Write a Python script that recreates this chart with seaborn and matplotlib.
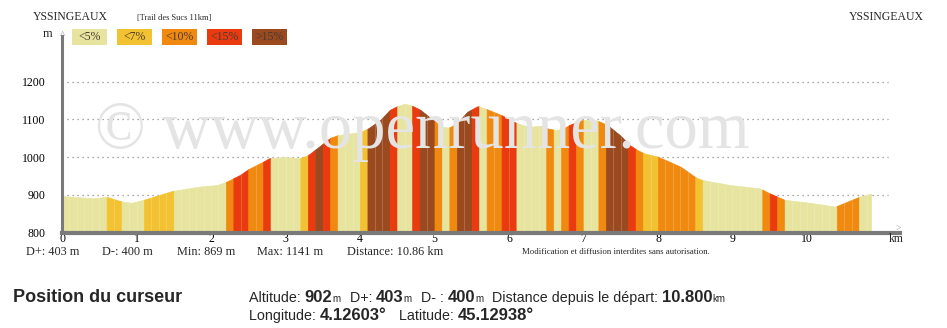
import numpy as np
import matplotlib
matplotlib.use("Agg")
import matplotlib.pyplot as plt
from matplotlib.patches import Rectangle
from matplotlib import font_manager as fm
import seaborn as sns

# ---- profile: distance (km) and altitude (m) ----
dist_km = [0.00, 0.42, 0.60, 0.81, 0.94, 1.11, 1.49, 1.85, 2.08, 2.21,
           2.39, 2.50, 2.70, 2.79, 3.02, 3.19, 3.30, 3.42, 3.60, 3.70,
           4.00, 4.11, 4.27, 4.40, 4.50, 4.60, 4.70, 4.81, 5.01, 5.10,
           5.19, 5.30, 5.44, 5.58, 5.70, 5.91, 6.11, 6.28, 6.42, 6.51,
           6.62, 6.71, 6.81, 6.98, 7.18, 7.32, 7.49, 7.62, 7.72, 7.81,
           8.00, 8.30, 8.51, 8.60, 8.97, 9.37, 9.50, 9.70, 10.04, 10.38,
           10.70, 10.86]
elev_m = [897, 891, 895, 882, 879, 888, 911, 922, 926, 935,
          953, 968, 988, 998, 1000, 997, 1005, 1023, 1051, 1058,
          1066, 1076, 1098, 1125, 1135, 1141, 1136, 1125, 1094, 1080,
          1078, 1089, 1120, 1135, 1127, 1110, 1089, 1080, 1083, 1076,
          1072, 1074, 1085, 1098, 1097, 1085, 1058, 1032, 1019, 1010,
          1001, 975, 946, 939, 926, 917, 904, 887, 879, 869,
          895, 903]

# ---- slope classes along the route ----
seg_edges_km = [0.0, 0.6, 0.8, 1.1, 1.5, 2.2, 2.3, 2.5, 2.7, 2.8, 3.2, 3.3,
                3.4, 3.5, 3.6, 3.7, 4.0, 4.1, 4.4, 4.5, 4.7, 4.8, 5.0, 5.1,
                5.2, 5.3, 5.5, 5.6, 5.7, 5.9, 6.1, 6.5, 6.6, 6.7, 6.8, 6.9,
                7.0, 7.2, 7.3, 7.6, 7.7, 7.8, 8.0, 8.5, 8.6, 9.4, 9.5, 9.6,
                9.7, 10.4, 10.7, 10.86]
seg_class = [0, 1, 0, 1, 0, 2, 3, 2, 3, 0,
             1, 3, 4, 3, 2, 0, 1, 4, 3, 0,
             3, 4, 2, 0, 2, 4, 3, 0, 2, 3,
             0, 2, 0, 2, 3, 2, 0, 2, 4, 3,
             2, 1, 2, 1, 0, 2, 3, 2, 0, 2,
             0]
class_labels = ["<5%", "<7%", "<10%", "<15%", ">15%"]
class_colors = ["#E6E49E", "#F2C232", "#F0890F", "#EA3A10", "#9A4A1E"]

x_ticks = list(range(0, 11))
y_ticks = [800, 900, 1000, 1100, 1200]
grid_levels = [900, 1000, 1100, 1200]

stats = ["D+: 403 m", "D-: 400 m", "Min: 869 m", "Max: 1141 m", "Distance: 10.86 km"]
stats_x = [26, 102, 177, 257, 347]

W, H = 947, 328
sns.set_theme(style="white")
plt.rcParams["font.family"] = ["Liberation Serif", "DejaVu Serif"]


def has_font(name):
    try:
        fm.findfont(fm.FontProperties(family=name), fallback_to_default=False)
        return True
    except ValueError:
        return False


narrow = "Liberation Sans Narrow" if has_font("Liberation Sans Narrow") else "Liberation Sans"

fig = plt.figure(figsize=(W / 100, H / 100), dpi=100)
fig.patch.set_facecolor("white")


def fx(x):
    return x / W


def fy(y):
    return 1 - y / H


# axes: origin at (62, 232.7) px, 74.5 px per km, 0.378 px per m
x0, y0, x1, y1 = 62, 232.7, 900, 36
ax = fig.add_axes([fx(x0), fy(y0), (x1 - x0) / W, (y0 - y1) / H])
ax.set_facecolor("none")
ax.set_xlim(0, (x1 - x0) / 74.5)
ax.set_ylim(800, 800 + (y0 - y1) / 0.378)

palette = sns.color_palette(class_colors)

# watermark behind everything
fig.text(fx(95), fy(148), "\u00a9 www.openrunner.com", fontsize=48,
         color="#E4E4E4", va="baseline", ha="left", zorder=0,
         family=["Liberation Serif"])

# dotted grid
ax.hlines(grid_levels, 0, (888 - x0) / 74.5, colors="#8a8a8a",
          linestyles=(0, (1, 3)), linewidth=0.9, zorder=1)

# coloured slope segments
d = np.asarray(dist_km, float)
e = np.asarray(elev_m, float)
for i, c in enumerate(seg_class):
    lo, hi = seg_edges_km[i], seg_edges_km[i + 1]
    xs = np.linspace(lo, hi, max(4, int((hi - lo) * 60)))
    ys = np.interp(xs, d, e)
    ax.fill_between(xs, 800, ys, facecolor=palette[c], edgecolor=palette[c],
                    linewidth=0.5, zorder=2)
    # faint seams every 100 m inside a segment
    for k in np.arange(round(lo + 0.1, 1), hi - 0.05, 0.1):
        ax.vlines(k, 800, np.interp(k, d, e), colors="white", alpha=0.22,
                  linewidth=0.6, zorder=2.5)

# axes styling
for s in ["top", "right"]:
    ax.spines[s].set_visible(False)
ax.spines["left"].set_color("#7a7a7a")
ax.spines["left"].set_linewidth(2.2)
ax.spines["bottom"].set_color("#7a7a7a")
ax.spines["bottom"].set_linewidth(3)
ax.spines["left"].set_zorder(3)
ax.spines["bottom"].set_zorder(3)
ax.set_xticks(x_ticks)
ax.set_xticklabels([str(t) for t in x_ticks])
ax.set_yticks(y_ticks)
ax.set_yticklabels([str(t) for t in y_ticks])
ax.tick_params(axis="both", length=0, labelsize=8.5, colors="black")
ax.tick_params(axis="x", pad=0)
ax.tick_params(axis="y", pad=12)
ax.grid(False)

# axis arrows and units
fig.text(fx(62), fy(36), "^", ha="center", va="center", fontsize=8, color="#9a9a9a")
fig.text(fx(898), fy(228), ">", ha="center", va="center", fontsize=7, color="#9a9a9a")
fig.text(fx(896), fy(239), "km", ha="center", va="center", fontsize=8.5)
fig.text(fx(52), fy(34), "m", ha="right", va="center", fontsize=9)

# header
fig.text(fx(33), fy(17), "YSSINGEAUX", ha="left", va="center", fontsize=8.5)
fig.text(fx(849), fy(17), "YSSINGEAUX", ha="left", va="center", fontsize=8.5)
fig.text(fx(137), fy(18), "[Trail des Sucs 11km]", ha="left", va="center", fontsize=6)

# slope legend
box_x = [72, 117, 162, 207, 252]
for bx, lab, col in zip(box_x, class_labels, class_colors):
    fig.patches.append(Rectangle((fx(bx), fy(45)), 35 / W, 16 / H, transform=fig.transFigure,
                                 facecolor=col, edgecolor="none", figure=fig))
    fig.text(fx(bx + 17.5), fy(37.5), lab, ha="center", va="center",
             fontsize=8.5, color="#4a3a30")

# summary row under the axis
for sx, st in zip(stats_x, stats):
    fig.text(fx(sx), fy(252), st, ha="left", va="center", fontsize=8.8)
fig.text(fx(522), fy(252), "Modification et diffusion interdites sans autorisation.",
         ha="left", va="center", fontsize=6.3)

# cursor panel
fig.text(fx(13), fy(298), "Position du curseur", ha="left", va="center",
         fontsize=13, fontweight="bold", family=["Liberation Sans", "DejaVu Sans"])

renderer = fig.canvas.get_renderer()


def run_line(x, y, parts):
    cur = fx(x)
    for txt, size, weight, gap in parts:
        t = fig.text(cur, fy(y), txt, ha="left", va="baseline", fontsize=size,
                     fontweight=weight, family=[narrow, "DejaVu Sans"])
        bb = t.get_window_extent(renderer=renderer)
        cur = (bb.x1 + gap) / W


line1 = [("Altitude: ", 10.3, "normal", 0), ("902", 12, "bold", 0), ("m", 7, "normal", 9),
         ("D+: ", 10.3, "normal", 0), ("403", 12, "bold", 0), ("m", 7, "normal", 9),
         ("D- : ", 10.3, "normal", 0), ("400", 12, "bold", 0), ("m", 7, "normal", 9),
         ("Distance depuis le d\u00e9part: ", 10.3, "normal", 0), ("10.800", 12, "bold", 0),
         ("km", 7, "normal", 0)]
line2 = [("Longitude: ", 10.3, "normal", 0), ("4.12603\u00b0", 12, "bold", 12),
         ("Latitude: ", 10.3, "normal", 0), ("45.12938\u00b0", 12, "bold", 0)]
run_line(249, 302, line1)
run_line(249, 320, line2)

fig.savefig("out.png", dpi=100, facecolor="white")
